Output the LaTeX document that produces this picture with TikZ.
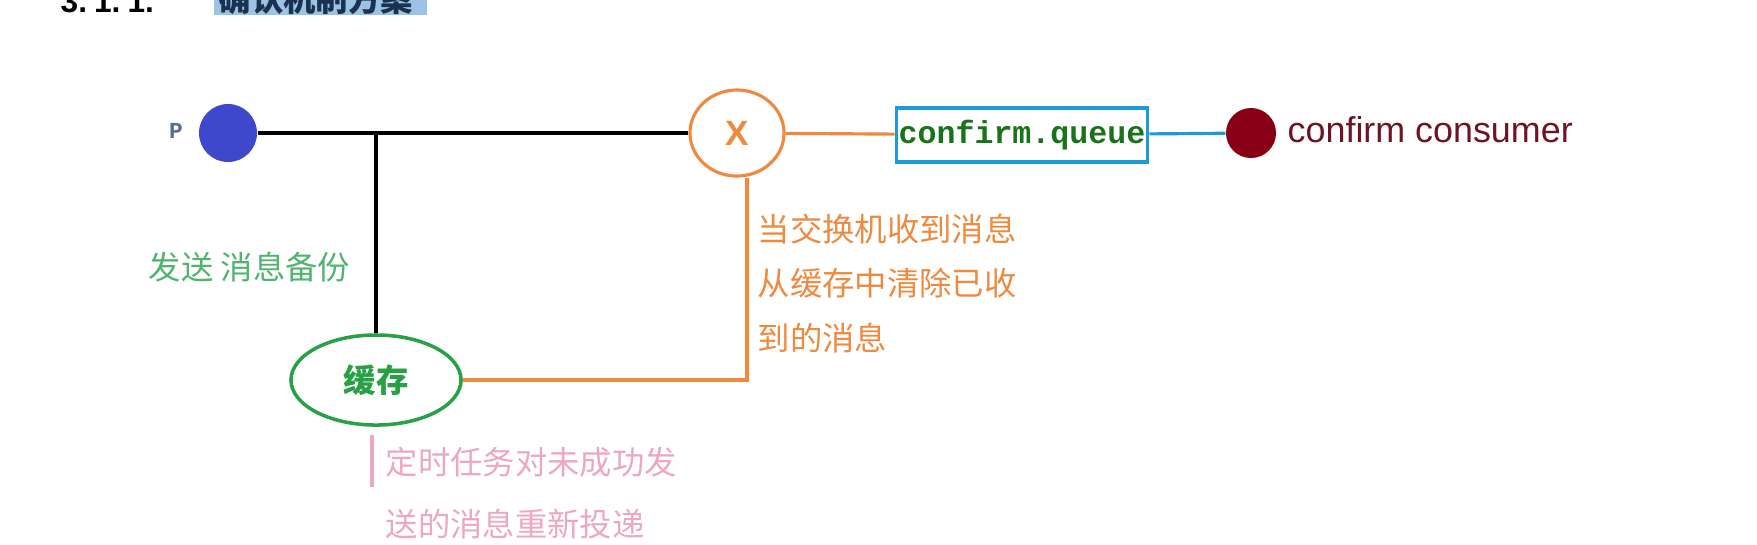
\documentclass[tikz,border=0pt]{standalone}
\usepackage{fontspec}
\setmainfont{Liberation Sans}
\setmonofont{Liberation Mono}
\newfontfamily\cjkfont{Noto Sans CJK SC}
\usetikzlibrary{shapes.geometric}

\definecolor{pblue}{RGB}{63,72,204}
\definecolor{pgray}{RGB}{90,105,150}
\definecolor{cred}{RGB}{136,0,21}
\definecolor{ctext}{RGB}{110,20,35}
\definecolor{xorange}{RGB}{237,138,63}
\definecolor{qblue}{RGB}{30,155,215}
\definecolor{qgreen}{RGB}{25,115,25}
\definecolor{cgreen}{RGB}{40,160,70}
\definecolor{tgreen}{RGB}{80,180,110}
\definecolor{tpink}{RGB}{236,168,192}
\definecolor{hblue}{RGB}{157,195,228}
\definecolor{hnavy}{RGB}{25,50,80}

\tikzset{
  dot/.style={circle,inner sep=0pt,minimum size=#1},
  zh/.style={font=\cjkfont\fontsize{9.2}{15.4}\selectfont,align=left,inner sep=0pt},
}

\begin{document}
\begin{tikzpicture}[x=0.01cm,y=-0.01cm]
    \useasboundingbox (0,0) rectangle (1757,544);

    % heading, cut at the top
    \fill[hblue] (214,-40) rectangle (427,15);
    \node[anchor=base west,inner sep=0pt,font=\bfseries\fontsize{9}{12}\selectfont] (num) at (60,12) {3.\hspace{2pt}1.\hspace{2pt}1.};
    \node[anchor=base west,inner sep=0pt,text=hnavy,font=\cjkfont\bfseries\fontsize{9.2}{12}\selectfont] (head) at (218,11) {确认机制方案};

    \node[dot=0.58cm,fill=pblue] (p) at (228,133) {};
    \node[text=pgray,inner sep=0pt,font=\ttfamily\bfseries\fontsize{6.5}{7}\selectfont] (plabel) at (176,131) {P};

    \node[ellipse,draw=xorange,line width=0.9pt,minimum width=0.94cm,minimum height=0.86cm,
          text=xorange,font=\bfseries\fontsize{10}{12}\selectfont] (x) at (737,133) {X};
    \node[draw=qblue,line width=1pt,minimum width=2.51cm,minimum height=0.54cm,inner sep=0pt,
          text=qgreen,font=\ttfamily\bfseries\fontsize{9}{10}\selectfont] (queue) at (1022,135) {confirm.queue};
    \node[dot=0.5cm,fill=cred] (c) at (1251,133) {};
    \node[anchor=west,inner sep=0pt,text=ctext,font=\fontsize{10.2}{12}\selectfont] (clabel) at (1287,130) {confirm consumer};

    \node[ellipse,draw=cgreen,line width=1pt,minimum width=1.7cm,minimum height=0.9cm,
          text=cgreen,font=\cjkfont\bfseries\fontsize{9.2}{12}\selectfont] (cache) at (376,380) {缓存};

    \coordinate (j) at (376,133);
    \coordinate (pk1) at (372,435);
    \coordinate (pk2) at (372,487);

    \draw[line width=1.2pt] (p) -- (x);
    \draw[line width=1.2pt] (j) -- (cache);
    \draw[xorange,line width=0.9pt] (x) -- (queue);
    \draw[xorange,line width=0.9pt] (cache.east) -| ([xshift=0.1cm]x.south);
    \draw[qblue,line width=0.9pt] (queue) -- (c);
    \draw[tpink,line width=1.2pt] (pk1) -- (pk2);

    \node[zh,text=tgreen,anchor=west] (send) at (148,267) {发送 消息备份};
    \node[zh,text=xorange,anchor=base west] (clear) at (757,350) {当交换机收到消息\\从缓存中清除已收\\到的消息};
    \node[zh,text=tpink,anchor=base west,font=\cjkfont\fontsize{9.2}{17.6}\selectfont] (retry) at (385,536) {定时任务对未成功发\\送的消息重新投递};
\end{tikzpicture}
\end{document}
